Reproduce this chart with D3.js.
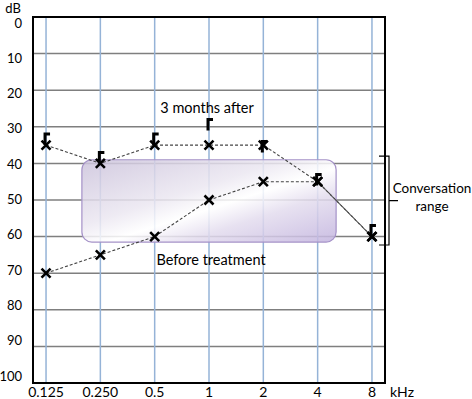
<!DOCTYPE html>
<html>
<head>
<meta charset="utf-8">
<script src="https://cdn.jsdelivr.net/npm/d3@7"></script>
<style>
  body { margin: 0; background: #fff; }
  svg text { font-family: Lato, "Open Sans", sans-serif; fill: #000; }
</style>
</head>
<body>
<svg width="472" height="399"></svg>
<script>
// audiogram values (dB HL)
const freqs = ["0.125", "0.250", "0.5", "1", "2", "4", "8"];
const dbTicks = [0, 10, 20, 30, 40, 50, 60, 70, 80, 90, 100];
const beforeDb = [70, 65, 60, 50, 45, 45, 60];
const afterDb = [35, 40, 35, 35, 35, 45, 60];
// bone conduction "[" markers (top of the bracket)
const boneDb = [32, 37, 32, 28, 34, 43, 57];
// conversation range: frequency span in grid-index units, dB span
const convIdx = [0.66, 5.34];
const convDb = [39, 61.5];
const braceDb = [38, 62.3];

const svg = d3.select("svg");
const frame = { left: 33, top: 17, right: 385, bottom: 383 };

const x = d3.scalePoint().domain(freqs).range([frame.left, frame.right]).padding(0.24);
const xi = d3.scaleLinear().domain([0, freqs.length - 1]).range([x(freqs[0]), x(freqs[freqs.length - 1])]);
const y = d3.scaleLinear().domain([0, 100]).range([frame.top, frame.bottom]);
// the tick labels sit a little inside the frame at both ends
const yLabel = d3.scaleLinear().domain([0, 100]).range([23, 376]);

// grid
svg.append("g").selectAll("line")
    .data(dbTicks.slice(1, -1))
    .enter().append("line")
    .attr("x1", frame.left).attr("x2", frame.right)
    .attr("y1", d => y(d)).attr("y2", d => y(d))
    .attr("stroke", "#7f7f7f").attr("stroke-width", 1.5);

svg.append("g").selectAll("line")
    .data(freqs)
    .enter().append("line")
    .attr("x1", d => x(d)).attr("x2", d => x(d))
    .attr("y1", frame.top).attr("y2", frame.bottom)
    .attr("stroke", "#95b3d7").attr("stroke-width", 1.5);

// conversation box
const defs = svg.append("defs");
const grad = defs.append("linearGradient").attr("id", "conv")
    .attr("x1", "0").attr("y1", "0").attr("x2", "1").attr("y2", "1");
grad.append("stop").attr("offset", "0%").attr("stop-color", "#cbc2db");
grad.append("stop").attr("offset", "40%").attr("stop-color", "#ebe7f1");
grad.append("stop").attr("offset", "55%").attr("stop-color", "#ffffff");
grad.append("stop").attr("offset", "70%").attr("stop-color", "#e3dcee");
grad.append("stop").attr("offset", "100%").attr("stop-color", "#c2b3de");

svg.append("rect")
    .attr("x", xi(convIdx[0])).attr("y", y(convDb[0]))
    .attr("width", xi(convIdx[1]) - xi(convIdx[0]))
    .attr("height", y(convDb[1]) - y(convDb[0]))
    .attr("rx", 10).attr("ry", 10)
    .attr("fill", "url(#conv)").attr("fill-opacity", 0.85)
    .attr("stroke", "#a592c8").attr("stroke-width", 1.2);

// frame
svg.append("rect")
    .attr("x", frame.left).attr("y", frame.top)
    .attr("width", frame.right - frame.left).attr("height", frame.bottom - frame.top)
    .attr("fill", "none").attr("stroke", "#000").attr("stroke-width", 2);

// y labels
svg.append("g").selectAll("text")
    .data(dbTicks)
    .enter().append("text")
    .attr("x", 22).attr("y", d => yLabel(d)).attr("dy", "0.35em")
    .attr("text-anchor", "end").attr("font-size", 13)
    .text(d => d);
svg.append("text").attr("x", 13).attr("y", 13).attr("text-anchor", "middle")
    .attr("font-size", 13).text("dB");

// x labels
svg.append("g").selectAll("text")
    .data(freqs)
    .enter().append("text")
    .attr("x", d => x(d)).attr("y", 397)
    .attr("text-anchor", "middle").attr("font-size", 14)
    .text(d => d);
svg.append("text").attr("x", 390).attr("y", 397).attr("font-size", 14).text("kHz");

// dashed lines
const line = (vals) => d3.line().x((d, i) => x(freqs[i])).y(d => y(d))(vals);
[beforeDb, afterDb].forEach(vals => {
    svg.append("path").attr("d", line(vals))
        .attr("fill", "none").attr("stroke", "#444").attr("stroke-width", 1.1)
        .attr("stroke-dasharray", "3,2");
});

// bone conduction brackets
svg.append("g").selectAll("path")
    .data(boneDb)
    .enter().append("path")
    .attr("d", (d, i) => {
        const cx = x(freqs[i]) - 1, ty = y(d);
        return `M${cx + 5},${ty} H${cx} V${ty + 11}`;
    })
    .attr("fill", "none").attr("stroke", "#000").attr("stroke-width", 3)
    .attr("stroke-linejoin", "miter");

// X markers
const cross = (cx, cy) => `M${cx - 4.5},${cy - 4.5}L${cx + 4.5},${cy + 4.5}M${cx + 4.5},${cy - 4.5}L${cx - 4.5},${cy + 4.5}`;
[beforeDb, afterDb].forEach(vals => {
    svg.append("g").selectAll("path")
        .data(vals)
        .enter().append("path")
        .attr("d", (d, i) => cross(x(freqs[i]), y(d)))
        .attr("stroke", "#000").attr("stroke-width", 2.6);
});

// annotations
svg.append("text").attr("x", 207).attr("y", 113).attr("text-anchor", "middle")
    .attr("font-size", 14.5).text("3 months after");
svg.append("text").attr("x", 211).attr("y", 265).attr("text-anchor", "middle")
    .attr("font-size", 14.5).text("Before treatment");

// brace
const bx = 389, bt = y(braceDb[0]), bb = y(braceDb[1]), bm = (bt + bb) / 2;
svg.append("path")
    .attr("d", `M379,${bt}H${bx}V${bb}H379M${bx},${bm}H398`)
    .attr("fill", "none").attr("stroke", "#000").attr("stroke-width", 1.2);
svg.append("text").attr("x", 432).attr("y", 193).attr("text-anchor", "middle")
    .attr("font-size", 13.5).text("Conversation");
svg.append("text").attr("x", 432).attr("y", 211).attr("text-anchor", "middle")
    .attr("font-size", 13.5).text("range");
</script>
</body>
</html>
